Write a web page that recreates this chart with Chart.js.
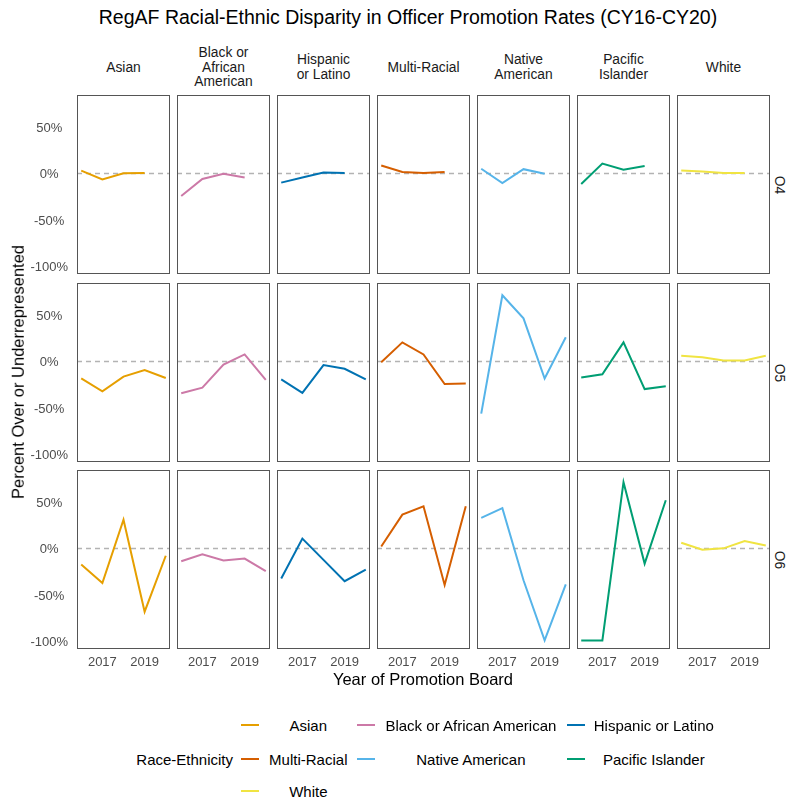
<!DOCTYPE html>
<html>
<head>
<meta charset="utf-8">
<title>RegAF Racial-Ethnic Disparity in Officer Promotion Rates</title>
<script src="https://cdn.jsdelivr.net/npm/chart.js@4.4.1/dist/chart.umd.min.js"></script>
<style>
  html, body { margin: 0; padding: 0; background: #fff; }
  #fig { position: relative; width: 789px; height: 800px; font-family: "Liberation Sans", Arial, sans-serif; color: #1a1a1a; overflow: hidden; }
  #fig canvas { position: absolute; }
  .txt { position: absolute; white-space: nowrap; line-height: 1; }
  .title { font-size: 19.5px; color: #000; left: 408px; top: 8px; transform: translateX(-50%); }
  .strip { font-size: 13.8px; line-height: 14.6px; text-align: center; transform: translate(-50%, -50%); }
  .rowlab { font-size: 13.8px; writing-mode: vertical-rl; transform: translate(-50%, -50%); }
  .axtitle { font-size: 16.5px; color: #000; }
  .legtxt { font-size: 15px; color: #000; transform: translate(-50%, -50%); }
  .legkey { position: absolute; height: 2px; width: 18px; }
</style>
</head>
<body>
<div id="fig"></div>
<script>
// ---- data -------------------------------------------------------------
const years = [2016, 2017, 2018, 2019, 2020];
const raceGroups = ['Asian', 'Black or African American', 'Hispanic or Latino',
  'Multi-Racial', 'Native American', 'Pacific Islander', 'White'];
const stripLabels = [['Asian'], ['Black or', 'African', 'American'], ['Hispanic', 'or Latino'],
  ['Multi-Racial'], ['Native', 'American'], ['Pacific', 'Islander'], ['White']];
const grades = ['O4', 'O5', 'O6'];
const raceColors = ['#E69F00', '#CC79A7', '#0072B2', '#D55E00', '#56B4E9', '#009E73', '#F0E442'];
const yTickValues = [-100, -50, 0, 50];
const xTickValues = [2017, 2019];

// percent over (+) or under (-) represented, one row per race group, CY16..CY20
const o4Disparity = [
  [2.5, -7, -0.5, 0, null],
  [-25, -6.5, -1, -5, null],
  [-10.5, -5, 0.5, 0, null],
  [8, 1, 0, 1, null],
  [4.5, -11, 4, -1, null],
  [-12, 10, 3.5, 7.5, null],
  [2.5, 1.5, 0, 0, null]
];
const o5Disparity = [
  [-19, -33, -17, -10, -18.5],
  [-35, -29, -4, 7, -20.5],
  [-20, -34.5, -4.5, -8.5, -20],
  [-1.5, 20, 7, -25, -24.5],
  [-57, 71, 46, -19, 25.5],
  [-18, -14.5, 20, -30.5, -27.5],
  [5.5, 4, 0.5, 0.5, 5.5]
];
const o6Disparity = [
  [-18, -38, 30.5, -69, -8.5],
  [-14.5, -7, -13.5, -11.5, -25],
  [-33, 10, -13, -36, -23.5],
  [1.5, 36, 45, -40, 45],
  [32.5, 43, -35, -100, -39.5],
  [-100, -100, 71, -17, 51.5],
  [5.5, -2, -0.5, 7.5, 2.5]
];
const disparityByGrade = [o4Disparity, o5Disparity, o6Disparity];

// ---- layout -------------------------------------------------------------
const PANEL_X0 = 77, PANEL_DX = 100, PANEL_W = 93;
const PANEL_TOPS = [95, 283, 470], PANEL_H = 179;
const Y_AXIS_W = 77, X_AXIS_H = 30;
const Y_MIN = -109.3, Y_MAX = 84.2, X_MIN = 2015.8, X_MAX = 2020.2;
const TICK_FONT = { family: '"Liberation Sans", Arial, sans-serif', size: 13 };

const fig = document.getElementById('fig');

function addText(cls, html, css) {
  const el = document.createElement('div');
  el.className = 'txt ' + cls;
  el.innerHTML = html;
  Object.assign(el.style, css || {});
  fig.appendChild(el);
  return el;
}

// keep every panel's plotting area the same size, whatever its tick labels
function fixScaleSize(size, shown, isVertical) {
  return s => {
    if (isVertical) s.width = shown ? size : 0; else s.height = shown ? size : 0;
    s.paddingTop = 0; s.paddingBottom = 0; s.paddingLeft = 0; s.paddingRight = 0;
  };
}

// dashed reference line at 0% and the panel frame
const panelDecor = {
  id: 'panelDecor',
  beforeDatasetsDraw(chart) {
    const { ctx, chartArea: a, scales } = chart;
    const y0 = Math.round(scales.y.getPixelForValue(0)) + 0.5;
    ctx.save();
    ctx.strokeStyle = '#b3b3b3';
    ctx.lineWidth = 1.3;
    ctx.setLineDash([5, 4]);
    ctx.beginPath();
    ctx.moveTo(a.left, y0);
    ctx.lineTo(a.right, y0);
    ctx.stroke();
    ctx.restore();
  },
  afterDatasetsDraw(chart) {
    const { ctx, chartArea: a } = chart;
    ctx.save();
    ctx.strokeStyle = '#555555';
    ctx.lineWidth = 1;
    ctx.strokeRect(a.left + 0.5, a.top + 0.5, a.right - a.left - 1, a.bottom - a.top - 1);
    ctx.restore();
  }
};

grades.forEach((grade, r) => {
  raceGroups.forEach((race, c) => {
    const isLeft = c === 0;
    const isBottom = r === grades.length - 1;
    const cv = document.createElement('canvas');
    const w = PANEL_W + (isLeft ? Y_AXIS_W : 0);
    const h = PANEL_H + (isBottom ? X_AXIS_H : 0);
    cv.width = w; cv.height = h;
    cv.style.width = w + 'px'; cv.style.height = h + 'px';
    cv.style.left = (PANEL_X0 + PANEL_DX * c - (isLeft ? Y_AXIS_W : 0)) + 'px';
    cv.style.top = PANEL_TOPS[r] + 'px';
    fig.appendChild(cv);

    const values = disparityByGrade[r][c];
    const points = years.map((yr, i) => ({ x: yr, y: values[i] })).filter(p => p.y !== null);

    new Chart(cv, {
      type: 'line',
      data: {
        datasets: [{
          label: race,
          data: points,
          borderColor: raceColors[c],
          backgroundColor: raceColors[c],
          borderWidth: 2,
          pointRadius: 0,
          tension: 0,
          fill: false
        }]
      },
      options: {
        responsive: false,
        animation: false,
        devicePixelRatio: 1,
        layout: { padding: 0, autoPadding: false },
        plugins: { legend: { display: false }, tooltip: { enabled: false } },
        scales: {
          x: {
            type: 'linear', min: X_MIN, max: X_MAX, display: isBottom,
            grid: { display: false, drawTicks: false }, border: { display: false },
            afterBuildTicks: s => { s.ticks = xTickValues.map(v => ({ value: v })); },
            afterFit: fixScaleSize(X_AXIS_H, isBottom, false),
            ticks: { font: TICK_FONT, color: '#4d4d4d', padding: 6, maxRotation: 0, autoSkip: false,
                     callback: v => String(v) }
          },
          y: {
            type: 'linear', min: Y_MIN, max: Y_MAX, display: isLeft,
            grid: { display: false, drawTicks: false }, border: { display: false },
            afterBuildTicks: s => { s.ticks = yTickValues.map(v => ({ value: v })); },
            afterFit: fixScaleSize(Y_AXIS_W, isLeft, true),
            ticks: { font: TICK_FONT, color: '#4d4d4d', padding: 9, crossAlign: 'center', labelOffset: 2,
                     autoSkip: false, callback: v => v + '%' }
          }
        }
      },
      plugins: [panelDecor]
    });
  });
});

// ---- text -----------------------------------------------------------------
addText('title', 'RegAF Racial-Ethnic Disparity in Officer Promotion Rates (CY16-CY20)');

stripLabels.forEach((lines, c) => {
  addText('strip', lines.join('<br>'), {
    left: (PANEL_X0 + PANEL_DX * c + PANEL_W / 2) + 'px', top: '68px'
  });
});

grades.forEach((g, r) => {
  addText('rowlab', g, { left: '779px', top: (PANEL_TOPS[r] + PANEL_H / 2) + 'px' });
});

addText('axtitle', 'Year of Promotion Board', { left: '423px', top: '679px', transform: 'translate(-50%, -50%)' });
addText('axtitle', 'Percent Over or Underrepresented', { left: '18px', top: '372px', transform: 'translate(-50%, -50%) rotate(-90deg)' });

// ---- legend ---------------------------------------------------------------
const legendRows = [725, 759, 791];
const legendKeyX = [241, 357, 567];
const legendTextX = [308.3, 470.9, 653.8];
addText('legtxt', 'Race-Ethnicity', { left: '184.7px', top: legendRows[1] + 'px' });
raceGroups.forEach((race, i) => {
  const row = Math.floor(i / 3), col = i % 3;
  const key = document.createElement('div');
  key.className = 'legkey';
  key.style.left = legendKeyX[col] + 'px';
  key.style.top = (legendRows[row] - 1) + 'px';
  key.style.background = raceColors[i];
  fig.appendChild(key);
  addText('legtxt', race, { left: legendTextX[col] + 'px', top: legendRows[row] + 'px' });
});
</script>
</body>
</html>
